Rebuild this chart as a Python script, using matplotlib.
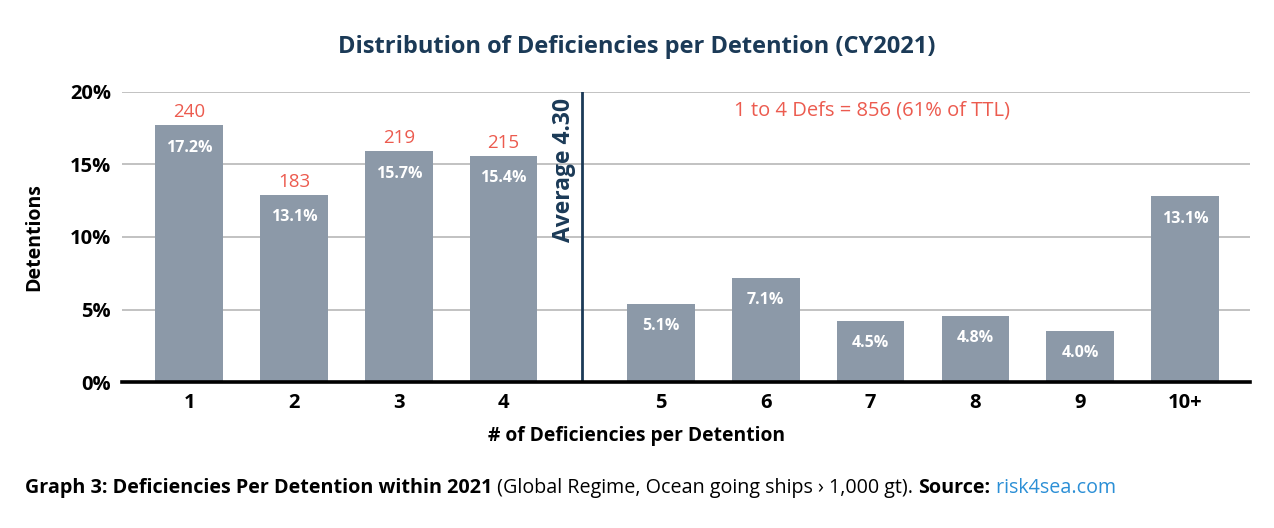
import numpy as np
import matplotlib
matplotlib.use('Agg')
import matplotlib.pyplot as plt

categories = ['1', '2', '3', '4', '5', '6', '7', '8', '9', '10+']
bar_heights = [17.7, 12.9, 15.9, 15.6, 5.4, 7.2, 4.2, 4.55, 3.55, 12.8]
pct_labels = ['17.2%', '13.1%', '15.7%', '15.4%', '5.1%', '7.1%',
              '4.5%', '4.8%', '4.0%', '13.1%']
counts = [240, 183, 219, 215]
yticks = [0, 5, 10, 15, 20]
avg_label = 'Average 4.30'
group_note = '1 to 4 Defs = 856 (61% of TTL)'

NAVY = '#1b3a57'
BAR = '#8c99a8'
RED = '#ec5b4f'
BLUE = '#2b8fd6'

plt.rcParams['font.family'] = ['Open Sans', 'DejaVu Sans']

fig = plt.figure(figsize=(12.74, 5.28), dpi=100)
ax = fig.add_axes([0.0958, 0.2765, 0.8854, 0.5493])

# bars 1-4 and 5-10+ separated by a half-slot gap for the average line
idx = np.arange(len(categories))
xpos = idx + 0.5 * (idx >= 4)
ax.bar(xpos, bar_heights, width=0.645, color=BAR, zorder=3)

for x, h, lab in zip(xpos, bar_heights, pct_labels):
    ax.annotate(lab, (x, h), xytext=(0, -16), textcoords='offset points',
                ha='center', va='center', color='white', fontsize=11.5,
                fontweight='bold', zorder=4)

for x, h, c in zip(xpos[:4], bar_heights[:4], counts):
    ax.annotate(str(c), (x, h), xytext=(0, 9.5), textcoords='offset points',
                ha='center', va='center', color=RED, fontsize=13.5, zorder=4)

avg_x = (xpos[3] + xpos[4]) / 2
ax.axvline(avg_x, color=NAVY, lw=2, zorder=2)
ax.text(avg_x - 0.17, 14.6, avg_label, rotation=90, ha='center', va='center',
        color=NAVY, fontsize=16.5, fontweight='bold')
ax.text(6.51, 18.7, group_note, ha='center', va='center', color=RED,
        fontsize=14.5)

ax.set_xlim(-0.64, 10.12)
ax.set_ylim(0, 20)
ax.set_yticks(yticks)
ax.set_yticklabels([f'{t}%' for t in yticks])
ax.set_xticks(xpos)
ax.set_xticklabels(categories)
ax.grid(axis='y', color='#bdbdbd', lw=1.3, zorder=0)
ax.tick_params(length=0, labelsize=14.5, pad=8)
for lab in ax.get_xticklabels() + ax.get_yticklabels():
    lab.set_fontweight('bold')
for s in ['top', 'right', 'left']:
    ax.spines[s].set_visible(False)
ax.spines['bottom'].set_linewidth(2.6)
ax.spines['bottom'].set_zorder(5)

ax.set_ylabel('Detentions', fontsize=14, fontweight='bold', labelpad=18)
fig.text(0.5, 1 - 436 / 528, '# of Deficiencies per Detention', ha='center',
         va='center', fontsize=13.9, fontweight='bold')
fig.text(0.5, 1 - 47 / 528, 'Distribution of Deficiencies per Detention (CY2021)',
         ha='center', va='center', fontsize=17, fontweight='bold', color=NAVY)

# footer built from consecutive pieces
parts = [('Graph 3: Deficiencies Per Detention within 2021', 'bold', 'black'),
         (' (Global Regime, Ocean going ships › 1,000 gt). ', 'normal', 'black'),
         ('Source:', 'bold', 'black'),
         (' risk4sea.com', 'normal', BLUE)]
fig.canvas.draw()
r = fig.canvas.get_renderer()
xcur = 25
for txt, w, col in parts:
    t = fig.text(xcur / 1274, 1 - 488 / 528, txt, ha='left', va='center',
                 fontsize=14.2, fontweight=w, color=col)
    xcur = t.get_window_extent(r).x1

fig.savefig('out.png', dpi=100)
